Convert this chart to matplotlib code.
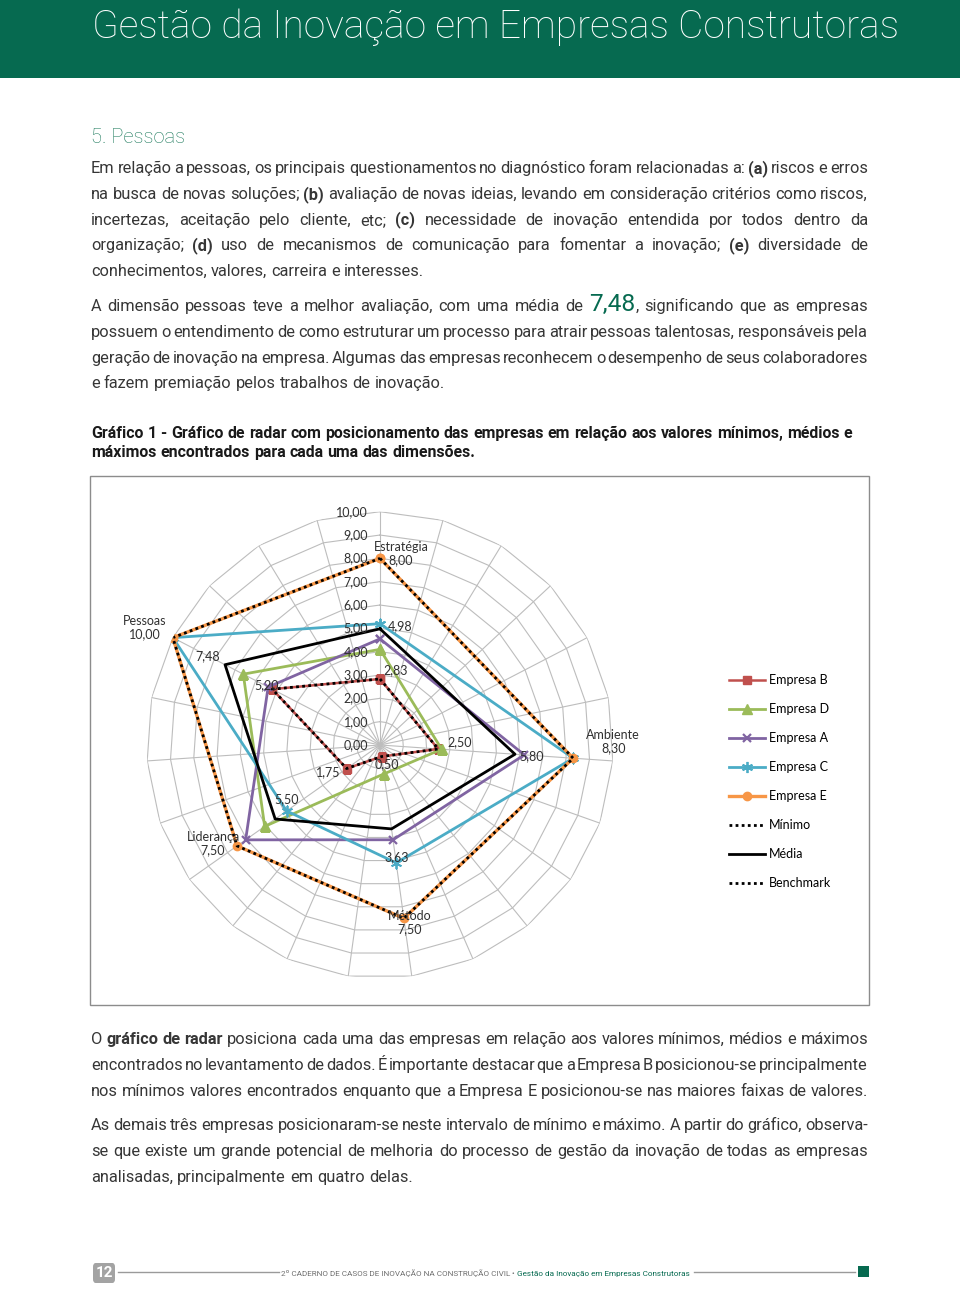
"""Página 12 - radar das dimensões de inovação (Gráfico 1)."""

import re

import numpy as np
import matplotlib

matplotlib.use("Agg")
import matplotlib.pyplot as plt
from matplotlib import font_manager
from matplotlib.lines import Line2D
from matplotlib.patches import FancyBboxPatch, Rectangle

# --- dados do gráfico -------------------------------------------------------
DIMENSOES = ["Estratégia", "Ambiente", "Método", "Liderança", "Pessoas"]
N_RAIOS = 23                      # categorias do radar original (Excel)
POSICAO_RAIO = [0, 6, 11, 15, 19]  # raio onde cai cada dimensão
ESCALA = [0, 1, 2, 3, 4, 5, 6, 7, 8, 9, 10]

EMPRESA_B = [2.83, 2.50, 0.50, 1.75, 5.20]
EMPRESA_D = [4.10, 2.65, 1.25, 6.05, 6.60]
EMPRESA_A = [4.55, 6.20, 4.10, 7.05, 5.40]
EMPRESA_C = [5.20, 8.30, 5.10, 4.90, 10.00]
EMPRESA_E = [8.00, 8.30, 7.50, 7.50, 10.00]
MINIMO = [2.83, 2.50, 0.50, 1.75, 5.20]
MEDIA = [4.98, 5.80, 3.63, 5.50, 7.48]
BENCHMARK = [8.00, 8.30, 7.50, 7.50, 10.00]

# deslocamento dos rótulos (pixels: direita, cima)
OFF_BENCH = [(21, 5), (40, 17), (6, -4), (-24, 2), (-28, 10)]
OFF_MEDIA = [(20, 3), (17, -2), (5, -28), (11, 20), (-17, 9)]
OFF_MINIMO = [(16, 9), (21, 7), (5, -8), (-18, -4), (-6, 4)]

# --- textos da página -------------------------------------------------------
TITULO = "Gestão da Inovação em Empresas Construtoras"
SECAO = "5. Pessoas"
PARAGRAFO_1 = [
    "Em relação a pessoas, os principais questionamentos no diagnóstico foram relacionadas a: *(a)* riscos e erros",
    "na busca de novas soluções; *(b)* avaliação de novas ideias, levando em consideração critérios como riscos,",
    "incertezas, aceitação pelo cliente, etc; *(c)* necessidade de inovação entendida por todos dentro da",
    "organização; *(d)* uso de mecanismos de comunicação para fomentar a inovação; *(e)* diversidade de",
    "conhecimentos, valores, carreira e interesses.",
]
PARAGRAFO_2 = [
    "A dimensão pessoas teve a melhor avaliação, com uma média de #7,48#, significando que as empresas",
    "possuem o entendimento de como estruturar um processo para atrair pessoas talentosas, responsáveis pela",
    "geração de inovação na empresa. Algumas das empresas reconhecem o desempenho de seus colaboradores",
    "e fazem premiação pelos trabalhos de inovação.",
]
LEGENDA_FIG = [
    "Gráfico 1 - Gráfico de radar com posicionamento das empresas em relação aos valores mínimos, médios e",
    "máximos encontrados para cada uma das dimensões.",
]
PARAGRAFO_3 = [
    "O *gráfico* *de* *radar* posiciona cada uma das empresas em relação aos valores mínimos, médios e máximos",
    "encontrados no levantamento de dados. É importante destacar que a Empresa B posicionou-se principalmente",
    "nos mínimos valores encontrados enquanto que a Empresa E posicionou-se nas maiores faixas de valores.",
]
PARAGRAFO_4 = [
    "As demais três empresas posicionaram-se neste intervalo de mínimo e máximo. A partir do gráfico, observa-",
    "se que existe um grande potencial de melhoria do processo de gestão da inovação de todas as empresas",
    "analisadas, principalmente em quatro delas.",
]
RODAPE_1 = "2º CADERNO DE CASOS DE INOVAÇÃO NA CONSTRUÇÃO CIVIL"
RODAPE_2 = "Gestão da Inovação em Empresas Construtoras"

W, H = 960, 1289
VERDE = "#066A50"
TEXTO = "#363636"
GRADE = "#bdbdbd"
ROTULO = "#303030"

installed = {f.name for f in font_manager.fontManager.ttflist}


def pick(*names):
    for name in names:
        if name in installed:
            return name
    return "DejaVu Sans"


BODY = pick("Liberation Sans Narrow", "Roboto", "Lato")
CHART = pick("Lato", "Open Sans", "Roboto")

fig = plt.figure(figsize=(W / 100, H / 100), dpi=100)
fig.patch.set_facecolor("white")
renderer = fig.canvas.get_renderer()


def fx(x):
    return x / W


def fy(y):
    return 1 - y / H


def width_of(text, **kw):
    t = fig.text(0, 0, text, **kw)
    w = t.get_window_extent(renderer).width
    t.remove()
    return w


def space_of(size):
    return width_of("a a", family=BODY, fontsize=size) - width_of("aa", family=BODY, fontsize=size)


def segments(word, size, color, bold_all=False):
    out = []
    for seg in re.findall(r"\*[^*]+\*|#[^#]+#|[^*#]+", word):
        kw = dict(family=BODY, fontsize=size, color=color,
                  fontweight="bold" if bold_all else "normal")
        if seg.startswith("*"):
            seg = seg[1:-1]
            kw["fontweight"] = "bold"
        elif seg.startswith("#"):
            seg = seg[1:-1]
            kw["fontsize"] = size * 1.5
            kw["color"] = VERDE
        out.append((seg, kw))
    return out


def tight_width(line, size, squeeze=0.6):
    """Largura da linha com os espaços apertados a *squeeze* do normal."""
    words = line.split(" ")
    total = 0
    for word in words:
        for seg, kw in segments(word, size, TEXTO):
            total += width_of(seg, **kw)
    return total + squeeze * space_of(size) * (len(words) - 1)


def place_line(y, line, size, justify, x0=91, x1=868, color=TEXTO, bold_all=False):
    space = space_of(size)
    words = []
    for word in line.split(" "):
        parts = []
        for seg, kw in segments(word, size, color, bold_all):
            t = fig.text(0, fy(y), seg, ha="left", va="baseline", **kw)
            parts.append((t, t.get_window_extent(renderer).width))
        words.append(parts)
    sums = [sum(w for _, w in parts) for parts in words]
    gap = space
    if justify and len(words) > 1:
        gap = (x1 - x0 - sum(sums)) / (len(words) - 1)
    x = x0
    for parts in words:
        for t, w in parts:
            t.set_x(fx(x))
            x += w
        x += gap


def place_paragraph(lines, y_first, pitch, size, last_justified=False):
    for i, line in enumerate(lines):
        last = i == len(lines) - 1
        place_line(y_first + i * pitch, line, size, justify=(not last) or last_justified)


# --- cabeçalho -------------------------------------------------------------
fig.add_artist(Rectangle((0, fy(78)), 1, 78 / H, transform=fig.transFigure,
                         color=VERDE, lw=0))
title_size = 31
tw = width_of(TITULO, family=BODY, fontsize=title_size, fontweight="light")
if tw > 806:
    title_size *= 806 / tw
fig.text(fx(92), fy(38), TITULO, family=BODY, fontsize=title_size,
         fontweight="light", color="white", ha="left", va="baseline")

fig.text(fx(91), fy(143), SECAO, family=BODY, fontsize=14.5, fontweight="light",
         color="#1d7a5c", ha="left", va="baseline")

# tamanho do corpo: cabe na coluna de 777 px com espaços apertados
body_size = 12.5
justified = PARAGRAFO_1[:-1] + PARAGRAFO_2[:-1] + PARAGRAFO_3 + PARAGRAFO_4[:-1]
widest = max(tight_width(l, body_size) for l in justified)
if widest > 777:
    body_size *= 777 / widest

place_paragraph(PARAGRAFO_1, 173, 25.8, body_size)
place_paragraph(PARAGRAFO_2, 311, 25.8, body_size)
for i, line in enumerate(LEGENDA_FIG):
    place_line(438 + i * 19.5, line, body_size * 0.97, justify=False,
               color="#1a1a1a", bold_all=True)
place_paragraph(PARAGRAFO_3, 1044, 25.8, body_size, last_justified=True)
place_paragraph(PARAGRAFO_4, 1130, 25.8, body_size)

# --- moldura do gráfico -----------------------------------------------------
fig.add_artist(Rectangle((fx(90), fy(1005)), (869 - 90) / W, (1005 - 476) / H,
                         transform=fig.transFigure, fill=False, ec="#8c8c8c", lw=1))

# --- radar -----------------------------------------------------------------
cx, cy, R = 380, 745, 233.3
ax = fig.add_axes([fx(cx - R), fy(cy + R), 2 * R / W, 2 * R / H], projection="polar")
ax.set_theta_zero_location("N")
ax.set_theta_direction(-1)
ax.set_ylim(0, 10)
ax.grid(False)
ax.spines["polar"].set_visible(False)
ax.set_xticks([])
ax.set_yticks([])
ax.patch.set_alpha(0)

raios = 2 * np.pi * np.arange(N_RAIOS + 1) / N_RAIOS
for r in ESCALA[1:]:
    ax.plot(raios, [r] * len(raios), color=GRADE, lw=0.8, zorder=1)
for th in raios[:-1]:
    ax.plot([th, th], [0, ESCALA[-1]], color=GRADE, lw=0.8, zorder=1)

for r in ESCALA:
    ax.annotate(f"{r:.2f}".replace(".", ","), xy=(0, r), xytext=(-8.6, 0),
                textcoords="offset points", ha="right", va="center",
                family=CHART, fontsize=9, color=ROTULO, zorder=5)

theta = [2 * np.pi * p / N_RAIOS for p in POSICAO_RAIO]
theta_c = theta + theta[:1]


def closed(values):
    return list(values) + list(values[:1])


series = [
    ("Empresa B", EMPRESA_B, dict(color="#C0504D", marker="s", ms=6, lw=1.8)),
    ("Empresa D", EMPRESA_D, dict(color="#9BBB59", marker="^", ms=7, lw=2.0)),
    ("Empresa A", EMPRESA_A, dict(color="#8064A2", marker="x", ms=6, mew=1.6, lw=2.0)),
    ("Empresa C", EMPRESA_C, dict(color="#4BACC6", marker=(6, 2, 0), ms=8, mew=1.3, lw=2.0)),
    ("Empresa E", EMPRESA_E, dict(color="#F79646", marker="o", ms=6, lw=2.4)),
    ("Mínimo", MINIMO, dict(color="black", ls=(0, (1, 1.2)), lw=2.0)),
    ("Média", MEDIA, dict(color="black", lw=2.0)),
    ("Benchmark", BENCHMARK, dict(color="black", ls=(0, (1, 1.2)), lw=2.0)),
]
handles = []
for i, (name, values, style) in enumerate(series):
    ax.plot(theta_c, closed(values), zorder=3 + i * 0.1, **style)
    handles.append(Line2D([], [], label=name, **style))

PX = 0.72  # pixels -> pontos (dpi 100)
for th, name, v, off in zip(theta, DIMENSOES, BENCHMARK, OFF_BENCH):
    ax.annotate(f"{name}\n{v:.2f}".replace(".", ","), xy=(th, v),
                xytext=(off[0] * PX, off[1] * PX), textcoords="offset points",
                ha="center", va="center", family=CHART, fontsize=9,
                color=ROTULO, linespacing=1.1, zorder=6)
for values, offs in ((MEDIA, OFF_MEDIA), (MINIMO, OFF_MINIMO)):
    for th, v, off in zip(theta, values, offs):
        ax.annotate(f"{v:.2f}".replace(".", ","), xy=(th, v),
                    xytext=(off[0] * PX, off[1] * PX), textcoords="offset points",
                    ha="center", va="center", family=CHART, fontsize=9,
                    color=ROTULO, zorder=6)

fig.legend(handles=handles, loc="upper left", bbox_to_anchor=(fx(724), fy(669)),
           frameon=False, prop=dict(family=CHART, size=9), handlelength=2.9,
           labelspacing=1.36, handletextpad=0.3, borderaxespad=0)

# --- rodapé ----------------------------------------------------------------
fig.add_artist(FancyBboxPatch((fx(93), fy(1283)), 22 / W, 20 / H,
                              boxstyle="round,pad=0,rounding_size=0.003",
                              transform=fig.transFigure, color="#a3a3a3", lw=0))
fig.text(fx(104), fy(1273), "12", family=BODY, fontsize=11, fontweight="bold",
         color="white", ha="center", va="center")
for x0, x1 in ((118, 279), (694, 855)):
    fig.add_artist(Line2D([fx(x0), fx(x1)], [fy(1272), fy(1272)],
                          transform=fig.transFigure, color="#9a9a9a", lw=1))
fig.add_artist(Rectangle((fx(858), fy(1277)), 11 / W, 11 / H,
                         transform=fig.transFigure, color=VERDE, lw=0))

foot_parts = [(RODAPE_1, "#707070"), (" • ", "#707070"), (RODAPE_2, VERDE)]
foot_size = 7
total = sum(width_of(t, family=BODY, fontsize=foot_size) for t, _ in foot_parts)
foot_size *= 409 / total
x = 281
for text, color in foot_parts:
    t = fig.text(fx(x), fy(1276), text, family=BODY, fontsize=foot_size,
                 color=color, ha="left", va="baseline")
    x += t.get_window_extent(renderer).width

fig.savefig("out.png", dpi=100, facecolor="white")
